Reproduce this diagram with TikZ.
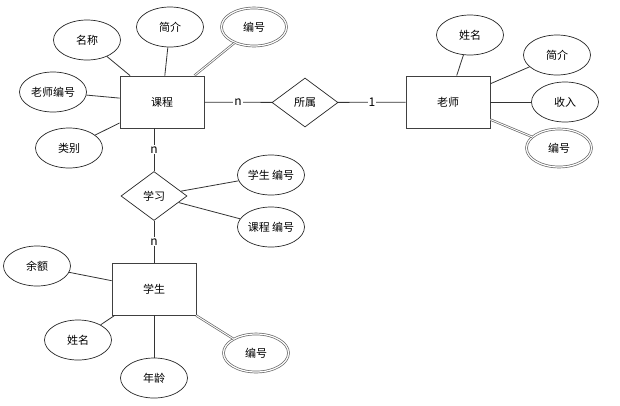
\documentclass[tikz,border=0pt]{standalone}
\usepackage{fontspec}
\setmainfont{Noto Sans CJK SC}
\usetikzlibrary{shapes.geometric}
\begin{document}
\begin{tikzpicture}[x=1pt,y=-1pt,
  every node/.style={font=\fontsize{11}{13}\selectfont, text=black},
  ent/.style={draw=black!75, line width=0.9pt, fill=white, minimum width=84pt, minimum height=52pt, inner sep=0pt},
  attr/.style={draw=black!85, line width=0.7pt, ellipse, fill=white, minimum width=67pt, minimum height=40pt, inner sep=0pt},
  keyattr/.style={draw=black!60, line width=0.7pt, double=white, double distance=1.2pt, ellipse, fill=white, minimum width=65pt, minimum height=38pt, inner sep=0pt},
  rel/.style={draw=black!85, line width=0.7pt, diamond, aspect=1.35, fill=white, minimum width=66pt, minimum height=49pt, inner sep=0pt},
  conn/.style={draw=black!80, line width=0.8pt},
  kconn/.style={draw=black!60, line width=0.7pt, double=white, double distance=0.9pt},
  card/.style={fill=white, inner sep=1pt, font=\fontsize{12}{13}\selectfont}
]
\useasboundingbox (0,0) rectangle (620,405);

% entities
\node[ent] (kc) at (162,102) {课程};
\node[ent] (ls) at (448,102) {老师};
\node[ent] (xs) at (154,289) {学生};

% relations
\node[rel] (ss) at (305,102.5) {所属};
\node[rel] (xx) at (154,196) {学习};

% course attributes
\node[attr] (mc) at (87,40) {名称};
\node[attr] (kjj) at (170,27) {简介};
\node[keyattr] (kbh) at (254,27) {编号};
\node[attr] (lsbh) at (53,92) {老师编号};
\node[attr] (lb) at (69,148) {类别};

% teacher attributes
\node[attr] (lxm) at (470,35) {姓名};
\node[attr] (ljj) at (557,55) {简介};
\node[attr] (sr) at (565,102) {收入};
\node[keyattr] (lbh) at (559,148) {编号};

% study attributes
\node[attr] (xsbh) at (271,175) {学生 编号};
\node[attr] (kcbh) at (271,227) {课程 编号};

% student attributes
\node[attr] (ye) at (37,266) {余额};
\node[attr] (sxm) at (78,340) {姓名};
\node[attr] (nl) at (154,378) {年龄};
\node[keyattr] (sbh) at (256,353) {编号};

% connectors
\draw[conn] (mc) -- (kc);
\draw[conn] (kjj) -- (kc);
\draw[kconn] (kbh) -- (kc);
\draw[conn] (lsbh) -- (kc);
\draw[conn] (lb) -- (kc);

\draw[conn] (lxm) -- (ls);
\draw[conn] (ljj) -- (ls);
\draw[conn] (sr) -- (ls);
\draw[kconn] (lbh) -- (ls);

\draw[conn] (xsbh) -- (xx);
\draw[conn] (kcbh) -- (xx);

\draw[conn] (ye) -- (xs);
\draw[conn] (sxm) -- (xs);
\draw[conn] (nl) -- (xs);
\draw[kconn] (sbh) -- (xs);

\draw[conn] (kc) -- node[card] {n} (ss);
\draw[conn] (ss) -- node[card] {1} (ls);
\draw[conn] (xx.north |- kc.south) -- node[card] {n} (xx.north);
\draw[conn] (xx) -- node[card] {n} (xs);
\end{tikzpicture}
\end{document}
